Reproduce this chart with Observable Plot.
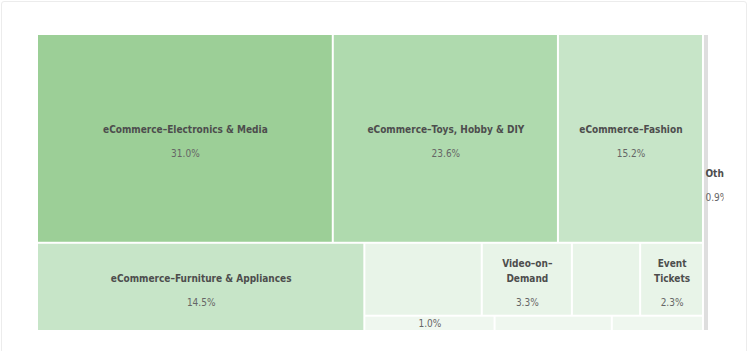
<!DOCTYPE html>
<html>
<head>
<meta charset="utf-8">
<script src="https://cdn.jsdelivr.net/npm/d3@7"></script>
<script src="https://cdn.jsdelivr.net/npm/@observablehq/plot@0.6"></script>
<style>
  html, body { margin: 0; padding: 0; background: #fff; }
  body { position: relative; width: 750px; height: 351px; overflow: hidden; }
  #frame { position: absolute; left: 1px; top: 1px; width: 746px; height: 360px; border: 1px solid #ececec; border-radius: 3px; box-sizing: border-box; }
  #chart { position: absolute; left: 0; top: 0; }
</style>
</head>
<body>
<div id="frame"></div>
<div id="chart"></div>
<script>
// ---- data ----
const ids     = ["root", "main", "topRow", "bottomRow",
                 "eCommerce–Electronics & Media", "eCommerce–Toys, Hobby & DIY", "eCommerce–Fashion",
                 "eCommerce–Furniture & Appliances",
                 "rest", "midRow", "strip",
                 "eCommerce–Food & Personal Care", "Video–on–Demand", "Video Games", "Event Tickets",
                 "Music Streaming", "eBooks", "ePublishing",
                 "Others"];
const parents = [null, "root", "main", "main",
                 "topRow", "topRow", "topRow",
                 "bottomRow",
                 "bottomRow", "rest", "rest",
                 "midRow", "midRow", "midRow", "midRow",
                 "strip", "strip", "strip",
                 "root"];
const shares  = [0, 0, 0, 0,
                 31.0, 23.6, 15.2,
                 14.5,
                 0, 0, 0,
                 4.3, 3.3, 2.5, 2.3,
                 1.0, 0.9, 0.7,
                 0.9];
// names written on the chart (others do not fit their cells)
const nameLines = {
  "eCommerce–Electronics & Media": ["eCommerce–Electronics & Media"],
  "eCommerce–Toys, Hobby & DIY": ["eCommerce–Toys, Hobby & DIY"],
  "eCommerce–Fashion": ["eCommerce–Fashion"],
  "eCommerce–Furniture & Appliances": ["eCommerce–Furniture & Appliances"],
  "Video–on–Demand": ["Video–on–", "Demand"],
  "Event Tickets": ["Event", "Tickets"],
  "Others": ["Others"]
};
const valueShown = ["eCommerce–Electronics & Media", "eCommerce–Toys, Hobby & DIY", "eCommerce–Fashion",
  "eCommerce–Furniture & Appliances", "Video–on–Demand", "Event Tickets", "Music Streaming", "Others"];

// ---- layout via d3 hierarchy ----
const table = ids.map((id, i) => ({id, parent: parents[i], value: shares[i]}));
const root = d3.stratify().id(d => d.id).parentId(d => d.parent)(table)
  .sum(d => d.value);
d3.treemap().tile(d3.treemapSliceDice).size([1, 1]).round(false)(root);
const leaves = root.leaves().map(n => ({
  name: n.data.id, value: n.data.value,
  x1: n.x0, x2: n.x1, y1: n.y0, y2: n.y1,
  cx: (n.x0 + n.x1) / 2, cy: (n.y0 + n.y1) / 2
}));
const cells = leaves.filter(d => d.name !== "Others");
const others = leaves.filter(d => d.name === "Others");

const lineItems = [];
for (const d of leaves) {
  const lines = nameLines[d.name];
  if (!lines) continue;
  lines.forEach((t, i) => lineItems.push({...d, text: t, k: lines.length, i}));
}
const valItems = leaves.filter(d => valueShown.includes(d.name))
  .map(d => ({...d, label: d.value.toFixed(1) + "%", k: nameLines[d.name] ? nameLines[d.name].length : 0}));

const font = "'DejaVu Sans Condensed', 'DejaVu Sans', sans-serif";
const nameStyle = {fontSize: 10, fontWeight: "bold", fill: "#4d4d4d", fontFamily: font};
const valStyle = {fontSize: 10, fill: "#666", fontFamily: font};

const isMain = d => d.name !== "Others";
const plot = Plot.plot({
  width: 750,
  height: 351,
  marginLeft: 37,
  marginRight: 26,
  marginTop: 34,
  marginBottom: 20,
  x: {domain: [0, 1], range: [37, 709], axis: null},
  y: {domain: [0, 1], range: [34, 331], axis: null},
  color: {type: "threshold", domain: [1.5, 5, 20, 28],
          range: ["#eff7ef", "#e8f4e8", "#c7e5c8", "#afdaae", "#9ccf97"]},
  style: {fontFamily: font, background: "transparent"},
  marks: [
    Plot.rect(cells, {x1: "x1", x2: "x2", y1: "y1", y2: "y2", fill: "value", inset: 1}),
    Plot.rect(others, {x1: "x1", x2: "x2", y1: "y1", y2: "y2", fill: "#dedede", inset: 1}),
    Plot.text(lineItems.filter(d => d.k === 1 && isMain(d)), {x: "cx", y: "cy", text: "text", dy: -9, ...nameStyle}),
    Plot.text(lineItems.filter(d => d.k === 2 && d.i === 0), {x: "cx", y: "cy", text: "text", dy: -16, ...nameStyle}),
    Plot.text(lineItems.filter(d => d.k === 2 && d.i === 1), {x: "cx", y: "cy", text: "text", dy: -1, ...nameStyle}),
    Plot.text(valItems.filter(d => d.k === 1 && isMain(d)), {x: "cx", y: "cy", text: "label", dy: 15, ...valStyle}),
    Plot.text(valItems.filter(d => d.k === 2), {x: "cx", y: "cy", text: "label", dy: 23, ...valStyle}),
    Plot.text(valItems.filter(d => d.k === 0), {x: "cx", y: "cy", text: "label", dy: 0, ...valStyle}),
    // Others: label starts at the cell and is cut by the frame
    Plot.text(lineItems.filter(d => !isMain(d)), {x: "x1", y: "cy", text: "text", dy: -9, dx: 2, textAnchor: "start", clip: true, ...nameStyle}),
    Plot.text(valItems.filter(d => !isMain(d)), {x: "x1", y: "cy", text: "label", dy: 15, dx: 2, textAnchor: "start", clip: true, ...valStyle})
  ]
});
document.getElementById("chart").appendChild(plot);
</script>
</body>
</html>
